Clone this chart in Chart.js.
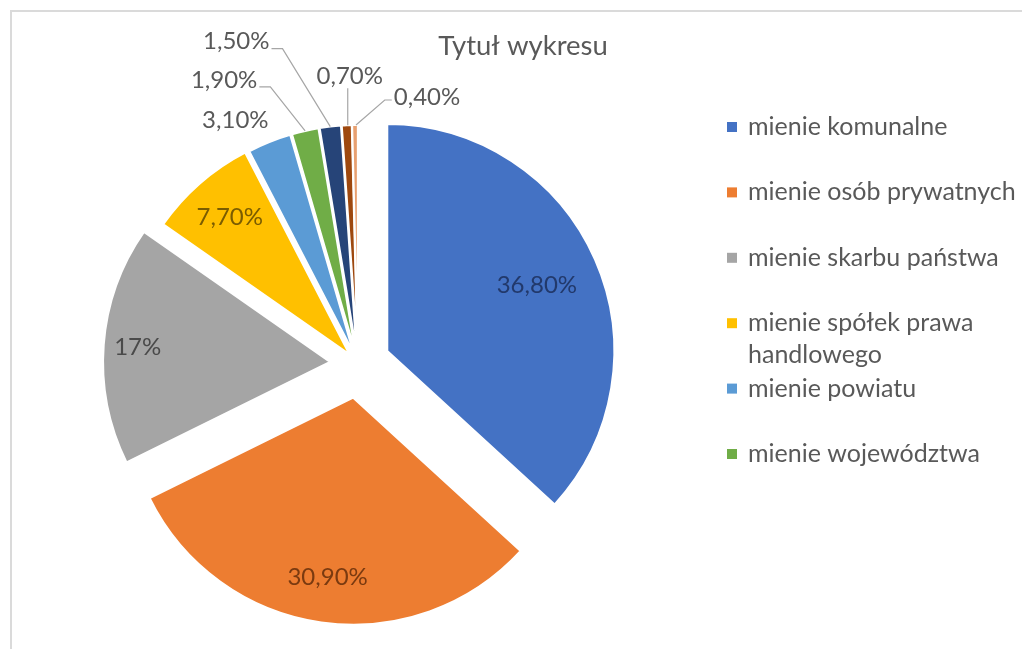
<!DOCTYPE html>
<html><head><meta charset="utf-8">
<script src="https://cdn.jsdelivr.net/npm/chart.js@4.4.0/dist/chart.umd.min.js"></script>
<style>
html,body{margin:0;padding:0;background:#fff;overflow:hidden;width:1022px;height:649px;}
#frame{position:absolute;left:10px;top:10px;width:1100px;height:700px;border:2px solid #dadada;box-sizing:border-box;}
#wrap{position:absolute;left:0;top:0;width:1022px;height:649px;}
</style></head><body>
<div id="frame"></div>
<div id="wrap"><canvas id="c" width="1022" height="649"></canvas></div>
<script>
const chartTitle = 'Tytuł wykresu';
const categories = [
  'mienie komunalne',
  'mienie osób prywatnych',
  'mienie skarbu państwa',
  'mienie spółek prawa handlowego',
  'mienie powiatu',
  'mienie województwa',
  'mienie spółdzielni',
  'mienie kościołów',
  'pozostałe'
];
const values = [36.8, 30.9, 17, 7.7, 3.1, 1.9, 1.5, 0.7, 0.4];
const sliceColors = ['#4472C4','#ED7D31','#A5A5A5','#FFC000','#5B9BD5','#70AD47','#264478','#9E480E','#E8A070'];
const insideLabelColors = ['#22396b','#7a3a10','#4a4a4a','#7a5c00'];
const explode = [32, 34, 28, 13, 12, 12, 12, 12, 12];
const legendShown = 6;

function fmt(v){ return Number.isInteger(v) ? v + '%' : v.toFixed(2).replace('.', ',') + '%'; }

const FONT = 'Lato, "Open Sans", sans-serif';

// label placement config (relative to slice geometry)
const labelCfg = [
  {inside:true, frac:0.72},
  {inside:true, frac:0.80},
  {inside:true, frac:0.85},
  {inside:true, frac:0.80},
  {dx:-34, dy:-22, leader:'none'},
  {dx:-81, dy:-51, leader:'left'},
  {dx:-94, dy:-85, leader:'left'},
  {dx:3, dy:-49, leader:'vertical'},
  {dx:72, dy:-28, leader:'right'}
];

const explodePlugin = {
  id:'explodeSlices',
  afterDatasetUpdate(chart, args){
    args.meta.data.forEach((el, i) => {
      const mid = (el.startAngle + el.endAngle) / 2;
      el.x += Math.cos(mid) * explode[i];
      el.y += Math.sin(mid) * explode[i];
    });
  }
};

const decorPlugin = {
  id:'decor',
  afterDraw(chart){
    const ctx = chart.ctx;
    const arcs = chart.getDatasetMeta(0).data;
    ctx.save();
    // title
    ctx.fillStyle = '#595959';
    ctx.font = '27.5px ' + FONT;
    ctx.textAlign = 'center';
    ctx.textBaseline = 'middle';
    ctx.fillText(chartTitle, 523, 46);

    // data labels
    ctx.font = '24px ' + FONT;
    arcs.forEach((el, i) => {
      const mid = (el.startAngle + el.endAngle) / 2;
      const R = el.outerRadius;
      const c = labelCfg[i];
      const txt = fmt(values[i]);
      if (c.inside) {
        const x = el.x + Math.cos(mid) * R * c.frac;
        const y = el.y + Math.sin(mid) * R * c.frac;
        ctx.fillStyle = insideLabelColors[i];
        ctx.textAlign = 'center';
        ctx.fillText(txt, x, y);
        return;
      }
      const ax = el.x + Math.cos(mid) * R;
      const ay = el.y + Math.sin(mid) * R;
      const lx = ax + c.dx, ly = ay + c.dy;
      const w = ctx.measureText(txt).width;
      ctx.strokeStyle = '#a6a6a6';
      ctx.lineWidth = 1.2;
      ctx.beginPath();
      if (c.leader === 'left') {
        const ex = lx + w/2 + 2, ey = ly + 7;
        ctx.moveTo(ax, ay);
        ctx.lineTo(ex + 11, ey);
        ctx.lineTo(ex, ey);
      } else if (c.leader === 'right') {
        const ex = lx - w/2 - 2, ey = ly + 3;
        ctx.moveTo(ax + 1, ay);
        ctx.lineTo(ex - 7, ey);
        ctx.lineTo(ex, ey);
      } else if (c.leader === 'vertical') {
        ctx.moveTo(ax + 1, ay);
        ctx.lineTo(ax + 1, ly + 12);
      }
      ctx.stroke();
      ctx.fillStyle = '#595959';
      ctx.textAlign = 'center';
      ctx.fillText(txt, lx, ly);
    });

    // legend
    ctx.font = '25px ' + FONT;
    ctx.textAlign = 'left';
    const maxW = 285;
    for (let i = 0; i < legendShown; i++) {
      const y = 127 + 65.4 * i;
      ctx.fillStyle = sliceColors[i];
      ctx.fillRect(727, y - 5, 10, 10);
      ctx.fillStyle = '#595959';
      const words = categories[i].split(' ');
      const lines = [];
      let cur = '';
      words.forEach(wd => {
        const t = cur ? cur + ' ' + wd : wd;
        if (ctx.measureText(t).width > maxW && cur) { lines.push(cur); cur = wd; }
        else cur = t;
      });
      lines.push(cur);
      lines.forEach((ln, k) => ctx.fillText(ln, 748, y + k * 32));
    }
    ctx.restore();
  }
};

new Chart(document.getElementById('c'), {
  type:'pie',
  data:{
    labels: categories,
    datasets:[{
      data: values,
      backgroundColor: sliceColors,
      borderColor:'#ffffff',
      borderWidth:2,
      radius:227
    }]
  },
  options:{
    responsive:false,
    animation:false,
    layout:{padding:{left:0,right:306,top:79,bottom:0}},
    plugins:{legend:{display:false}, tooltip:{enabled:false}, title:{display:false}}
  },
  plugins:[explodePlugin, decorPlugin]
});
</script>
</body></html>
